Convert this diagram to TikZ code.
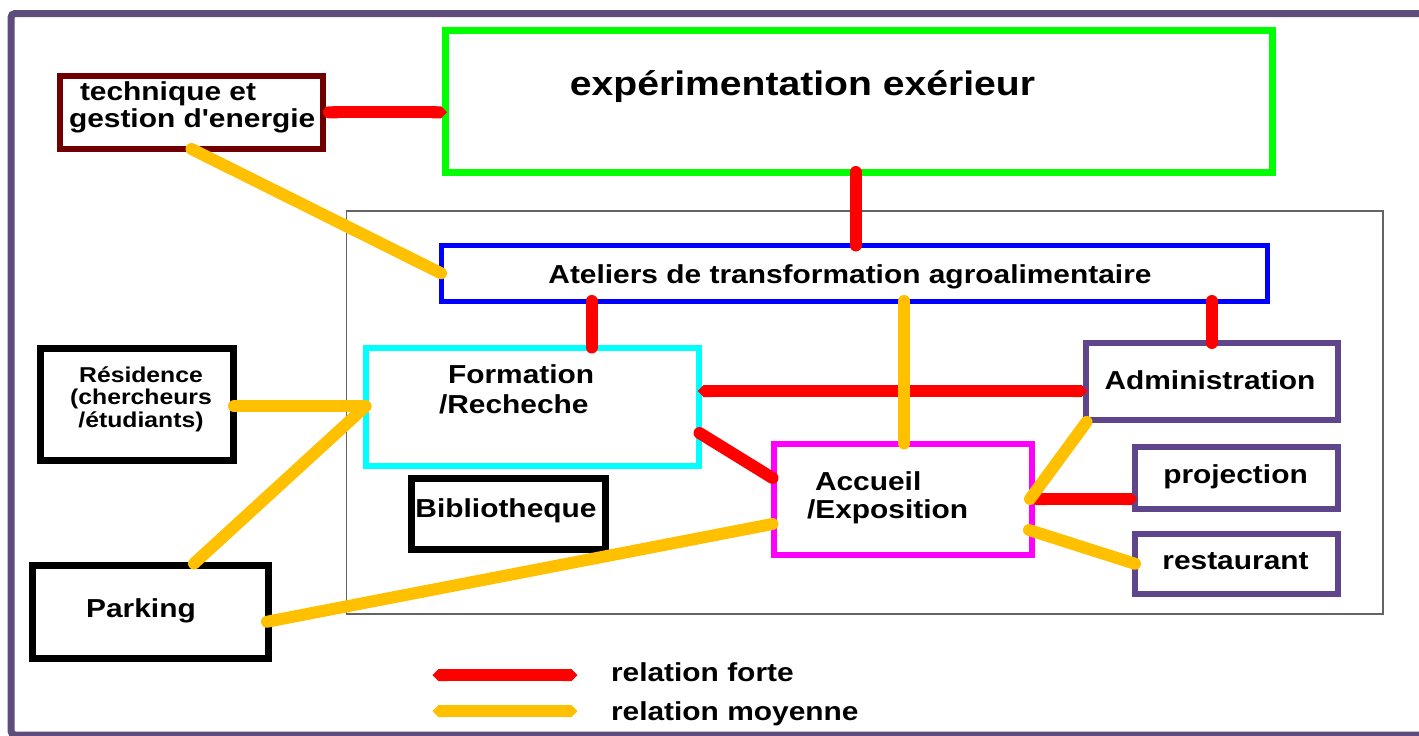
\documentclass[tikz,border=0pt]{standalone}
\usepackage{fontspec}
\setmainfont{Liberation Sans}[FakeStretch=1.15, Ligatures=TeXOff]
\usetikzlibrary{arrows.meta}

\definecolor{framepurple}{RGB}{94,76,125}
\definecolor{boxpurple}{RGB}{95,70,140}
\definecolor{maroon}{RGB}{112,0,0}
\definecolor{brightgreen}{RGB}{0,255,0}
\definecolor{brightblue}{RGB}{0,0,255}
\definecolor{brightcyan}{RGB}{0,255,255}
\definecolor{brightmagenta}{RGB}{255,0,255}
\definecolor{relred}{RGB}{255,0,0}
\definecolor{relyellow}{RGB}{255,192,0}
\definecolor{framegray}{RGB}{100,100,100}

\tikzset{
  box/.style={draw, rectangle, inner sep=0pt, outer sep=0pt},
  lbl/.style={font=\bfseries\fontsize{26}{28}\selectfont, inner sep=0pt, outer sep=0pt, align=left},
  strong/.style={draw=relred, line width=12pt, line cap=round},
  medium/.style={draw=relyellow, line width=12pt, line cap=round},
  bothpointed/.style={arrows={Triangle Cap-Triangle Cap}},
  endpointed/.style={arrows={Round Cap-Triangle Cap}},
}

\begin{document}
\begin{tikzpicture}[x=1pt, y=-1pt]
\useasboundingbox (0,0) rectangle (1419,736);
\fill[white] (0,0) rectangle (1419,736);

% outer frame
\draw[framepurple, line width=7pt, rounded corners=4pt] (1450,13.5) -- (11,13.5) -- (11,735) -- (1450,735);

% grey container around the building functions
\node[box, draw=framegray, line width=1.5pt, minimum width=1036.5pt, minimum height=403pt] (zone) at (864.75,412.5) {};

% boxes
\node[box, draw=brightgreen, line width=7pt, minimum width=827pt, minimum height=142pt] (exp) at (858.5,101) {};
\node[box, draw=maroon, line width=6pt, minimum width=263pt, minimum height=73.5pt] (tech) at (191.5,112.25) {};
\node[box, draw=brightblue, line width=5pt, minimum width=826pt, minimum height=55.5pt] (atel) at (854,273.25) {};
\node[box, draw=brightcyan, line width=6pt, minimum width=333pt, minimum height=118pt] (form) at (532,406.5) {};
\node[box, draw=black, line width=7pt, minimum width=193pt, minimum height=111.5pt] (resi) at (136.5,404.25) {};
\node[box, draw=black, line width=7pt, minimum width=236pt, minimum height=92.5pt] (park) at (150,611.75) {};
\node[box, draw=black, line width=7pt, minimum width=194.5pt, minimum height=70.5pt] (bibl) at (508.25,513.75) {};
\node[box, draw=brightmagenta, line width=6pt, minimum width=258.5pt, minimum height=111pt] (accu) at (902.75,499) {};
\node[box, draw=boxpurple, line width=6pt, minimum width=252.5pt, minimum height=77pt] (admin) at (1211.75,381.5) {};
\node[box, draw=boxpurple, line width=6pt, minimum width=203pt, minimum height=62.5pt] (proj) at (1236.5,477.75) {};
\node[box, draw=boxpurple, line width=6pt, minimum width=203pt, minimum height=60.5pt] (rest) at (1236.5,563.75) {};

% strong relations
\draw[strong, endpointed] (tech.east) -- ([xshift=2pt]tech.east -| exp.west);
\draw[strong] ([xshift=-3pt]exp.south) -- ([xshift=-3pt]exp.south |- atel.north);
\draw[strong] ([xshift=59.5pt]form.north) -- ([xshift=59.5pt]form.north |- atel.south);
\draw[strong] (admin.north) -- (admin.north |- atel.south);
\draw[strong, bothpointed] ([xshift=-1pt,yshift=15.5pt]form.east) -- ([xshift=2pt,yshift=15.5pt]form.east -| admin.west);
\draw[strong] ([xshift=1pt,yshift=-26.5pt]form.east) -- ([xshift=-1pt,yshift=21pt]accu.west);
\draw[strong, endpointed] ([xshift=-1pt]accu.east) -- ([xshift=2.5pt]accu.east -| proj.west);

% medium relations
\draw[medium] (tech.south) -- (atel.west);
\draw[medium] ([xshift=1.5pt]accu.north) -- ([xshift=1.5pt]accu.north |- atel.south);
\draw[medium] ([xshift=1pt,yshift=-2pt]resi.east) -- ([yshift=-2pt]resi.east -| form.west);
\draw[medium] ([xshift=44pt,yshift=2pt]park.north) -- (form.west);
\draw[medium] ([xshift=-1pt,yshift=-10pt]park.east) -- ([xshift=-1pt,yshift=-25pt]accu.west);
\draw[medium] ([xshift=1pt,yshift=-2pt]admin.south west) -- ([xshift=-2pt]accu.east);
\draw[medium] ([xshift=-3pt,yshift=-31pt]accu.east) -- (rest.west);

% labels (multi-line labels are placed by the baseline of their last line)
\node[lbl, font=\bfseries\fontsize{34}{36}\selectfont, anchor=base] (expT) at (802.5,95) {expérimentation exérieur};
\node[lbl, anchor=base west] (techT) at (69,127) {\hspace*{11pt}technique et\\[-1pt]gestion d'energie};
\node[lbl, anchor=base] (atelT) at (850,283) {Ateliers de transformation agroalimentaire};
\node[lbl, anchor=base west] (formT) at (439,413) {\hspace*{9pt}Formation\\[2pt]/Recheche};
\node[lbl, font=\bfseries\fontsize{21.5}{22.5}\selectfont, align=center, anchor=base] (resiT) at (141,427) {Résidence\\(chercheurs\\/étudiants)};
\node[lbl, anchor=base] (parkT) at (141,617) {Parking};
\node[lbl, anchor=base] (biblT) at (506,517) {Bibliotheque};
\node[lbl, anchor=base west] (accuT) at (807,518) {\hspace*{8pt}Accueil\\/Exposition};
\node[lbl, anchor=base] (adminT) at (1210,389) {Administration};
\node[lbl, anchor=base] (projT) at (1235.5,483) {projection};
\node[lbl, anchor=base] (restT) at (1235.5,569) {restaurant};

% legend
\node[lbl, anchor=base west] (fortT) at (611,681) {relation forte};
\node[lbl, anchor=base west] (moyT) at (611,720) {relation moyenne};
\coordinate (fortA) at (432.5,675);
\coordinate (fortB) at (577.5,675);
\coordinate (moyA) at (432.5,711);
\coordinate (moyB) at (577.5,711);
\draw[strong, bothpointed] (fortA) -- (fortB);
\draw[medium, bothpointed] (moyA) -- (moyB);
\end{tikzpicture}
\end{document}
